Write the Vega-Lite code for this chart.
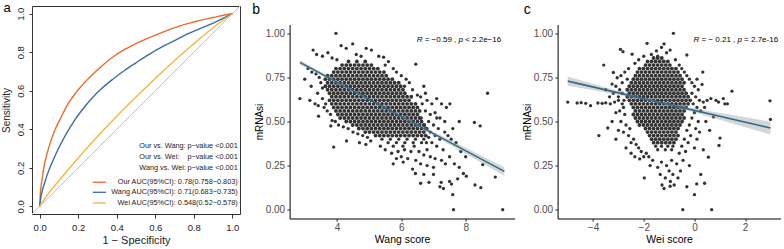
{
"$schema":"https://vega.github.io/schema/vega-lite/v6.json",
"padding":{"top":1,"left":0,"right":0,"bottom":0},
"autosize":{"type":"pad"},
"background":"white",
"config":{"font":"Liberation Sans","view":{"stroke":null},"axis":{"grid":false,"labelFlush":false,"labelOverlap":false}},
"datasets":{
"roc":[
{"s":"Our","x":0,"y":0},{"s":"Our","x":0.003,"y":0.06},{"s":"Our","x":0.008,"y":0.11},{"s":"Our","x":0.015,"y":0.16},{"s":"Our","x":0.025,"y":0.22},{"s":"Our","x":0.04,"y":0.28},{"s":"Our","x":0.06,"y":0.345},{"s":"Our","x":0.085,"y":0.41},{"s":"Our","x":0.11,"y":0.46},{"s":"Our","x":0.14,"y":0.52},{"s":"Our","x":0.17,"y":0.565},{"s":"Our","x":0.2,"y":0.605},{"s":"Our","x":0.24,"y":0.65},{"s":"Our","x":0.28,"y":0.69},{"s":"Our","x":0.33,"y":0.735},{"s":"Our","x":0.38,"y":0.775},{"s":"Our","x":0.43,"y":0.808},{"s":"Our","x":0.5,"y":0.845},{"s":"Our","x":0.56,"y":0.872},{"s":"Our","x":0.62,"y":0.897},{"s":"Our","x":0.68,"y":0.92},{"s":"Our","x":0.75,"y":0.943},{"s":"Our","x":0.82,"y":0.962},{"s":"Our","x":0.9,"y":0.98},{"s":"Our","x":0.96,"y":0.993},{"s":"Our","x":1,"y":1},
{"s":"Wang","x":0,"y":0},{"s":"Wang","x":0.005,"y":0.04},{"s":"Wang","x":0.012,"y":0.075},{"s":"Wang","x":0.025,"y":0.12},{"s":"Wang","x":0.045,"y":0.18},{"s":"Wang","x":0.07,"y":0.24},{"s":"Wang","x":0.1,"y":0.305},{"s":"Wang","x":0.14,"y":0.38},{"s":"Wang","x":0.18,"y":0.445},{"s":"Wang","x":0.22,"y":0.5},{"s":"Wang","x":0.27,"y":0.56},{"s":"Wang","x":0.32,"y":0.61},{"s":"Wang","x":0.38,"y":0.66},{"s":"Wang","x":0.44,"y":0.705},{"s":"Wang","x":0.5,"y":0.745},{"s":"Wang","x":0.57,"y":0.79},{"s":"Wang","x":0.64,"y":0.83},{"s":"Wang","x":0.71,"y":0.865},{"s":"Wang","x":0.78,"y":0.9},{"s":"Wang","x":0.85,"y":0.93},{"s":"Wang","x":0.92,"y":0.96},{"s":"Wang","x":0.97,"y":0.985},{"s":"Wang","x":1,"y":1},
{"s":"Wei","x":0,"y":0},{"s":"Wei","x":0.01,"y":0.016},{"s":"Wei","x":0.03,"y":0.045},{"s":"Wei","x":0.06,"y":0.085},{"s":"Wei","x":0.1,"y":0.133},{"s":"Wei","x":0.2,"y":0.251},{"s":"Wei","x":0.3,"y":0.362},{"s":"Wei","x":0.4,"y":0.467},{"s":"Wei","x":0.5,"y":0.567},{"s":"Wei","x":0.6,"y":0.664},{"s":"Wei","x":0.7,"y":0.756},{"s":"Wei","x":0.8,"y":0.844},{"s":"Wei","x":0.9,"y":0.927},{"s":"Wei","x":0.95,"y":0.965},{"s":"Wei","x":1,"y":1}
],
"bcore":[
{"x":4.36,"y":0.84},{"x":4.62,"y":0.84},{"x":4.88,"y":0.84},
{"x":4.16,"y":0.82},{"x":4.29,"y":0.82},{"x":4.42,"y":0.82},{"x":4.55,"y":0.82},{"x":4.68,"y":0.82},{"x":4.81,"y":0.82},{"x":4.94,"y":0.82},{"x":5.07,"y":0.82},
{"x":3.97,"y":0.8},{"x":4.1,"y":0.8},{"x":4.23,"y":0.8},{"x":4.36,"y":0.8},{"x":4.49,"y":0.8},{"x":4.62,"y":0.8},{"x":4.75,"y":0.8},{"x":4.88,"y":0.8},{"x":5.01,"y":0.8},{"x":5.14,"y":0.8},{"x":5.27,"y":0.8},
{"x":3.9,"y":0.78},{"x":4.03,"y":0.78},{"x":4.16,"y":0.78},{"x":4.29,"y":0.78},{"x":4.42,"y":0.78},{"x":4.55,"y":0.78},{"x":4.68,"y":0.78},{"x":4.81,"y":0.78},{"x":4.94,"y":0.78},{"x":5.07,"y":0.78},{"x":5.2,"y":0.78},{"x":5.33,"y":0.78},{"x":5.46,"y":0.78},
{"x":3.71,"y":0.76},{"x":3.84,"y":0.76},{"x":3.97,"y":0.76},{"x":4.1,"y":0.76},{"x":4.23,"y":0.76},{"x":4.36,"y":0.76},{"x":4.49,"y":0.76},{"x":4.62,"y":0.76},{"x":4.75,"y":0.76},{"x":4.88,"y":0.76},{"x":5.01,"y":0.76},{"x":5.14,"y":0.76},{"x":5.27,"y":0.76},{"x":5.4,"y":0.76},{"x":5.53,"y":0.76},
{"x":3.64,"y":0.74},{"x":3.77,"y":0.74},{"x":3.9,"y":0.74},{"x":4.03,"y":0.74},{"x":4.16,"y":0.74},{"x":4.29,"y":0.74},{"x":4.42,"y":0.74},{"x":4.55,"y":0.74},{"x":4.68,"y":0.74},{"x":4.81,"y":0.74},{"x":4.94,"y":0.74},{"x":5.07,"y":0.74},{"x":5.2,"y":0.74},{"x":5.33,"y":0.74},{"x":5.46,"y":0.74},{"x":5.59,"y":0.74},{"x":5.72,"y":0.74},
{"x":3.71,"y":0.72},{"x":3.84,"y":0.72},{"x":3.97,"y":0.72},{"x":4.1,"y":0.72},{"x":4.23,"y":0.72},{"x":4.36,"y":0.72},{"x":4.49,"y":0.72},{"x":4.62,"y":0.72},{"x":4.75,"y":0.72},{"x":4.88,"y":0.72},{"x":5.01,"y":0.72},{"x":5.14,"y":0.72},{"x":5.27,"y":0.72},{"x":5.4,"y":0.72},{"x":5.53,"y":0.72},{"x":5.66,"y":0.72},{"x":5.79,"y":0.72},{"x":5.92,"y":0.72},
{"x":3.64,"y":0.7},{"x":3.77,"y":0.7},{"x":3.9,"y":0.7},{"x":4.03,"y":0.7},{"x":4.16,"y":0.7},{"x":4.29,"y":0.7},{"x":4.42,"y":0.7},{"x":4.55,"y":0.7},{"x":4.68,"y":0.7},{"x":4.81,"y":0.7},{"x":4.94,"y":0.7},{"x":5.07,"y":0.7},{"x":5.2,"y":0.7},{"x":5.33,"y":0.7},{"x":5.46,"y":0.7},{"x":5.59,"y":0.7},{"x":5.72,"y":0.7},{"x":5.85,"y":0.7},{"x":5.98,"y":0.7},
{"x":3.71,"y":0.68},{"x":3.84,"y":0.68},{"x":3.97,"y":0.68},{"x":4.1,"y":0.68},{"x":4.23,"y":0.68},{"x":4.36,"y":0.68},{"x":4.49,"y":0.68},{"x":4.62,"y":0.68},{"x":4.75,"y":0.68},{"x":4.88,"y":0.68},{"x":5.01,"y":0.68},{"x":5.14,"y":0.68},{"x":5.27,"y":0.68},{"x":5.4,"y":0.68},{"x":5.53,"y":0.68},{"x":5.66,"y":0.68},{"x":5.79,"y":0.68},{"x":5.92,"y":0.68},{"x":6.05,"y":0.68},
{"x":3.77,"y":0.66},{"x":3.9,"y":0.66},{"x":4.03,"y":0.66},{"x":4.16,"y":0.66},{"x":4.29,"y":0.66},{"x":4.42,"y":0.66},{"x":4.55,"y":0.66},{"x":4.68,"y":0.66},{"x":4.81,"y":0.66},{"x":4.94,"y":0.66},{"x":5.07,"y":0.66},{"x":5.2,"y":0.66},{"x":5.33,"y":0.66},{"x":5.46,"y":0.66},{"x":5.59,"y":0.66},{"x":5.72,"y":0.66},{"x":5.85,"y":0.66},{"x":5.98,"y":0.66},{"x":6.11,"y":0.66},
{"x":3.84,"y":0.64},{"x":3.97,"y":0.64},{"x":4.1,"y":0.64},{"x":4.23,"y":0.64},{"x":4.36,"y":0.64},{"x":4.49,"y":0.64},{"x":4.62,"y":0.64},{"x":4.75,"y":0.64},{"x":4.88,"y":0.64},{"x":5.01,"y":0.64},{"x":5.14,"y":0.64},{"x":5.27,"y":0.64},{"x":5.4,"y":0.64},{"x":5.53,"y":0.64},{"x":5.66,"y":0.64},{"x":5.79,"y":0.64},{"x":5.92,"y":0.64},{"x":6.05,"y":0.64},{"x":6.18,"y":0.64},{"x":6.31,"y":0.64},
{"x":3.77,"y":0.62},{"x":3.9,"y":0.62},{"x":4.03,"y":0.62},{"x":4.16,"y":0.62},{"x":4.29,"y":0.62},{"x":4.42,"y":0.62},{"x":4.55,"y":0.62},{"x":4.68,"y":0.62},{"x":4.81,"y":0.62},{"x":4.94,"y":0.62},{"x":5.07,"y":0.62},{"x":5.2,"y":0.62},{"x":5.33,"y":0.62},{"x":5.46,"y":0.62},{"x":5.59,"y":0.62},{"x":5.72,"y":0.62},{"x":5.85,"y":0.62},{"x":5.98,"y":0.62},{"x":6.11,"y":0.62},{"x":6.24,"y":0.62},
{"x":3.84,"y":0.6},{"x":3.97,"y":0.6},{"x":4.1,"y":0.6},{"x":4.23,"y":0.6},{"x":4.36,"y":0.6},{"x":4.49,"y":0.6},{"x":4.62,"y":0.6},{"x":4.75,"y":0.6},{"x":4.88,"y":0.6},{"x":5.01,"y":0.6},{"x":5.14,"y":0.6},{"x":5.27,"y":0.6},{"x":5.4,"y":0.6},{"x":5.53,"y":0.6},{"x":5.66,"y":0.6},{"x":5.79,"y":0.6},{"x":5.92,"y":0.6},{"x":6.05,"y":0.6},{"x":6.18,"y":0.6},{"x":6.31,"y":0.6},{"x":6.44,"y":0.6},
{"x":3.9,"y":0.58},{"x":4.03,"y":0.58},{"x":4.16,"y":0.58},{"x":4.29,"y":0.58},{"x":4.42,"y":0.58},{"x":4.55,"y":0.58},{"x":4.68,"y":0.58},{"x":4.81,"y":0.58},{"x":4.94,"y":0.58},{"x":5.07,"y":0.58},{"x":5.2,"y":0.58},{"x":5.33,"y":0.58},{"x":5.46,"y":0.58},{"x":5.59,"y":0.58},{"x":5.72,"y":0.58},{"x":5.85,"y":0.58},{"x":5.98,"y":0.58},{"x":6.11,"y":0.58},{"x":6.24,"y":0.58},{"x":6.37,"y":0.58},{"x":6.5,"y":0.58},
{"x":3.97,"y":0.56},{"x":4.1,"y":0.56},{"x":4.23,"y":0.56},{"x":4.36,"y":0.56},{"x":4.49,"y":0.56},{"x":4.62,"y":0.56},{"x":4.75,"y":0.56},{"x":4.88,"y":0.56},{"x":5.01,"y":0.56},{"x":5.14,"y":0.56},{"x":5.27,"y":0.56},{"x":5.4,"y":0.56},{"x":5.53,"y":0.56},{"x":5.66,"y":0.56},{"x":5.79,"y":0.56},{"x":5.92,"y":0.56},{"x":6.05,"y":0.56},{"x":6.18,"y":0.56},{"x":6.31,"y":0.56},{"x":6.44,"y":0.56},{"x":6.57,"y":0.56},
{"x":4.03,"y":0.54},{"x":4.16,"y":0.54},{"x":4.29,"y":0.54},{"x":4.42,"y":0.54},{"x":4.55,"y":0.54},{"x":4.68,"y":0.54},{"x":4.81,"y":0.54},{"x":4.94,"y":0.54},{"x":5.07,"y":0.54},{"x":5.2,"y":0.54},{"x":5.33,"y":0.54},{"x":5.46,"y":0.54},{"x":5.59,"y":0.54},{"x":5.72,"y":0.54},{"x":5.85,"y":0.54},{"x":5.98,"y":0.54},{"x":6.11,"y":0.54},{"x":6.24,"y":0.54},{"x":6.37,"y":0.54},{"x":6.5,"y":0.54},
{"x":4.1,"y":0.52},{"x":4.23,"y":0.52},{"x":4.36,"y":0.52},{"x":4.49,"y":0.52},{"x":4.62,"y":0.52},{"x":4.75,"y":0.52},{"x":4.88,"y":0.52},{"x":5.01,"y":0.52},{"x":5.14,"y":0.52},{"x":5.27,"y":0.52},{"x":5.4,"y":0.52},{"x":5.53,"y":0.52},{"x":5.66,"y":0.52},{"x":5.79,"y":0.52},{"x":5.92,"y":0.52},{"x":6.05,"y":0.52},{"x":6.18,"y":0.52},{"x":6.31,"y":0.52},{"x":6.44,"y":0.52},{"x":6.57,"y":0.52},
{"x":4.29,"y":0.5},{"x":4.42,"y":0.5},{"x":4.55,"y":0.5},{"x":4.68,"y":0.5},{"x":4.81,"y":0.5},{"x":4.94,"y":0.5},{"x":5.07,"y":0.5},{"x":5.2,"y":0.5},{"x":5.33,"y":0.5},{"x":5.46,"y":0.5},{"x":5.59,"y":0.5},{"x":5.72,"y":0.5},{"x":5.85,"y":0.5},{"x":5.98,"y":0.5},{"x":6.11,"y":0.5},{"x":6.24,"y":0.5},{"x":6.37,"y":0.5},{"x":6.5,"y":0.5},{"x":6.63,"y":0.5},
{"x":4.49,"y":0.48},{"x":4.62,"y":0.48},{"x":4.75,"y":0.48},{"x":4.88,"y":0.48},{"x":5.01,"y":0.48},{"x":5.14,"y":0.48},{"x":5.27,"y":0.48},{"x":5.4,"y":0.48},{"x":5.53,"y":0.48},{"x":5.66,"y":0.48},{"x":5.79,"y":0.48},{"x":5.92,"y":0.48},{"x":6.05,"y":0.48},{"x":6.18,"y":0.48},{"x":6.31,"y":0.48},{"x":6.44,"y":0.48},{"x":6.57,"y":0.48},{"x":6.7,"y":0.48},
{"x":4.68,"y":0.46},{"x":4.81,"y":0.46},{"x":4.94,"y":0.46},{"x":5.07,"y":0.46},{"x":5.2,"y":0.46},{"x":5.33,"y":0.46},{"x":5.46,"y":0.46},{"x":5.59,"y":0.46},{"x":5.72,"y":0.46},{"x":5.85,"y":0.46},{"x":5.98,"y":0.46},{"x":6.11,"y":0.46},{"x":6.24,"y":0.46},{"x":6.37,"y":0.46},{"x":6.5,"y":0.46},{"x":6.63,"y":0.46},{"x":6.76,"y":0.46},
{"x":4.88,"y":0.44},{"x":5.01,"y":0.44},{"x":5.14,"y":0.44},{"x":5.27,"y":0.44},{"x":5.4,"y":0.44},{"x":5.53,"y":0.44},{"x":5.66,"y":0.44},{"x":5.79,"y":0.44},{"x":5.92,"y":0.44},{"x":6.05,"y":0.44},{"x":6.18,"y":0.44},{"x":6.31,"y":0.44},{"x":6.44,"y":0.44},{"x":6.57,"y":0.44},{"x":6.7,"y":0.44},
{"x":5.2,"y":0.42},{"x":5.33,"y":0.42},{"x":5.46,"y":0.42},{"x":5.59,"y":0.42},{"x":5.72,"y":0.42},{"x":5.85,"y":0.42},{"x":5.98,"y":0.42},{"x":6.11,"y":0.42},{"x":6.24,"y":0.42},{"x":6.37,"y":0.42},{"x":6.5,"y":0.42},{"x":6.63,"y":0.42},{"x":6.76,"y":0.42}
],
"bhalo":[
{"x":5.4,"y":0.4},{"x":5.66,"y":0.4},{"x":5.92,"y":0.4},{"x":6.18,"y":0.4},{"x":6.44,"y":0.4},{"x":6.7,"y":0.4},
{"x":5.59,"y":0.38},{"x":5.85,"y":0.38},{"x":6.11,"y":0.38},{"x":6.37,"y":0.38},{"x":6.63,"y":0.38},
{"x":5.75,"y":0.36},{"x":6.05,"y":0.36},{"x":6.4,"y":0.36},
{"x":3.97,"y":1.0},{"x":4.49,"y":0.94},{"x":4.13,"y":0.93},{"x":4.29,"y":0.915},{"x":4.91,"y":0.915},{"x":5.07,"y":0.905},{"x":5.3,"y":0.87},{"x":5.45,"y":0.865},{"x":4.6,"y":0.88},{"x":4.75,"y":0.87},{"x":3.26,"y":0.905},{"x":3.37,"y":0.88},{"x":3.55,"y":0.87},{"x":3.72,"y":0.89},{"x":3.85,"y":0.86},{"x":4.0,"y":0.85},{"x":5.6,"y":0.84},{"x":5.5,"y":0.82},{"x":5.75,"y":0.8},{"x":5.85,"y":0.78},{"x":6.0,"y":0.76},{"x":6.15,"y":0.74},{"x":6.1,"y":0.7},{"x":6.25,"y":0.72},{"x":6.45,"y":0.825},{"x":6.35,"y":0.68},{"x":6.5,"y":0.65},
{"x":3.1,"y":0.8},{"x":3.22,"y":0.78},{"x":3.35,"y":0.77},{"x":3.45,"y":0.75},{"x":3.5,"y":0.72},{"x":3.55,"y":0.69},{"x":3.4,"y":0.66},{"x":3.55,"y":0.63},{"x":3.16,"y":0.62},{"x":3.32,"y":0.6},{"x":3.42,"y":0.59},{"x":3.6,"y":0.58},{"x":3.7,"y":0.56},{"x":3.65,"y":0.6},{"x":3.8,"y":0.54},{"x":3.43,"y":0.53},{"x":3.85,"y":0.505},{"x":3.81,"y":0.475},{"x":3.95,"y":0.5},{"x":4.05,"y":0.48},{"x":4.2,"y":0.47},{"x":4.35,"y":0.46},{"x":4.5,"y":0.44},{"x":4.65,"y":0.43},{"x":4.8,"y":0.42},{"x":4.95,"y":0.41},{"x":5.05,"y":0.39},{"x":4.7,"y":0.38},{"x":4.9,"y":0.37},{"x":3.9,"y":0.355},{"x":4.3,"y":0.39},{"x":2.85,"y":0.63},{"x":3.0,"y":0.74},{"x":3.2,"y":0.7},
{"x":6.65,"y":0.6},{"x":6.8,"y":0.62},{"x":6.95,"y":0.6},{"x":7.1,"y":0.63},{"x":7.25,"y":0.6},{"x":7.4,"y":0.58},{"x":7.51,"y":0.6},{"x":6.75,"y":0.56},{"x":6.9,"y":0.54},{"x":7.05,"y":0.55},{"x":7.2,"y":0.52},{"x":6.85,"y":0.5},{"x":7.0,"y":0.48},{"x":7.15,"y":0.46},{"x":7.35,"y":0.44},{"x":7.45,"y":0.42},{"x":7.55,"y":0.4},{"x":6.9,"y":0.44},{"x":7.05,"y":0.42},{"x":7.2,"y":0.4},{"x":6.95,"y":0.38},{"x":7.1,"y":0.36},{"x":7.3,"y":0.34},{"x":6.8,"y":0.34},{"x":6.55,"y":0.33},{"x":6.7,"y":0.31},{"x":6.9,"y":0.3},{"x":7.05,"y":0.29},{"x":7.25,"y":0.28},{"x":7.37,"y":0.26},{"x":7.5,"y":0.3},{"x":6.3,"y":0.33},{"x":6.1,"y":0.34},{"x":5.9,"y":0.33},{"x":5.7,"y":0.32},{"x":5.5,"y":0.34},{"x":5.35,"y":0.36},{"x":6.0,"y":0.3},{"x":6.2,"y":0.29},{"x":6.45,"y":0.28},{"x":5.85,"y":0.29},{"x":6.06,"y":0.27},{"x":5.75,"y":0.26},{"x":6.6,"y":0.26},{"x":6.8,"y":0.25},{"x":7.0,"y":0.24},{"x":6.35,"y":0.23},{"x":6.44,"y":0.205},{"x":6.86,"y":0.155},{"x":7.24,"y":0.155},{"x":7.2,"y":0.13},{"x":7.31,"y":0.12},{"x":7.5,"y":0.16},{"x":7.56,"y":0.145},{"x":7.75,"y":0.175},{"x":7.6,"y":0.085},{"x":7.62,"y":0.0},{"x":9.15,"y":0.0},{"x":7.93,"y":0.205},{"x":8.02,"y":0.19},{"x":8.29,"y":0.14},{"x":8.47,"y":0.125},{"x":8.53,"y":0.255},{"x":8.92,"y":0.185},{"x":8.27,"y":0.495},{"x":8.45,"y":0.475},{"x":8.68,"y":0.66},{"x":7.7,"y":0.38},{"x":7.85,"y":0.33},{"x":8.0,"y":0.3},{"x":7.65,"y":0.26},{"x":7.8,"y":0.24},{"x":7.6,"y":0.46},{"x":7.8,"y":0.5},{"x":7.35,"y":0.5},{"x":6.7,"y":0.2},{"x":6.6,"y":0.15},{"x":7.0,"y":0.2},{"x":7.1,"y":0.52},
{"x":6.6,"y":0.64},{"x":6.75,"y":0.66},{"x":6.7,"y":0.7},{"x":6.62,"y":0.52},{"x":6.72,"y":0.48},{"x":6.8,"y":0.46},{"x":6.85,"y":0.41},{"x":6.78,"y":0.38}
],
"ccore":[
{"x":-1.61,"y":0.86},{"x":-1.45,"y":0.86},{"x":-1.29,"y":0.86},
{"x":-1.85,"y":0.84},{"x":-1.69,"y":0.84},{"x":-1.53,"y":0.84},{"x":-1.37,"y":0.84},{"x":-1.21,"y":0.84},{"x":-1.05,"y":0.84},
{"x":-1.93,"y":0.82},{"x":-1.77,"y":0.82},{"x":-1.61,"y":0.82},{"x":-1.45,"y":0.82},{"x":-1.29,"y":0.82},{"x":-1.13,"y":0.82},{"x":-0.97,"y":0.82},
{"x":-2.17,"y":0.8},{"x":-2.01,"y":0.8},{"x":-1.85,"y":0.8},{"x":-1.69,"y":0.8},{"x":-1.53,"y":0.8},{"x":-1.37,"y":0.8},{"x":-1.21,"y":0.8},{"x":-1.05,"y":0.8},{"x":-0.89,"y":0.8},{"x":-0.73,"y":0.8},
{"x":-2.25,"y":0.78},{"x":-2.09,"y":0.78},{"x":-1.93,"y":0.78},{"x":-1.77,"y":0.78},{"x":-1.61,"y":0.78},{"x":-1.45,"y":0.78},{"x":-1.29,"y":0.78},{"x":-1.13,"y":0.78},{"x":-0.97,"y":0.78},{"x":-0.81,"y":0.78},{"x":-0.65,"y":0.78},
{"x":-2.33,"y":0.76},{"x":-2.17,"y":0.76},{"x":-2.01,"y":0.76},{"x":-1.85,"y":0.76},{"x":-1.69,"y":0.76},{"x":-1.53,"y":0.76},{"x":-1.37,"y":0.76},{"x":-1.21,"y":0.76},{"x":-1.05,"y":0.76},{"x":-0.89,"y":0.76},{"x":-0.73,"y":0.76},{"x":-0.57,"y":0.76},
{"x":-2.41,"y":0.74},{"x":-2.25,"y":0.74},{"x":-2.09,"y":0.74},{"x":-1.93,"y":0.74},{"x":-1.77,"y":0.74},{"x":-1.61,"y":0.74},{"x":-1.45,"y":0.74},{"x":-1.29,"y":0.74},{"x":-1.13,"y":0.74},{"x":-0.97,"y":0.74},{"x":-0.81,"y":0.74},{"x":-0.65,"y":0.74},{"x":-0.49,"y":0.74},
{"x":-2.49,"y":0.72},{"x":-2.33,"y":0.72},{"x":-2.17,"y":0.72},{"x":-2.01,"y":0.72},{"x":-1.85,"y":0.72},{"x":-1.69,"y":0.72},{"x":-1.53,"y":0.72},{"x":-1.37,"y":0.72},{"x":-1.21,"y":0.72},{"x":-1.05,"y":0.72},{"x":-0.89,"y":0.72},{"x":-0.73,"y":0.72},{"x":-0.57,"y":0.72},{"x":-0.41,"y":0.72},
{"x":-2.57,"y":0.7},{"x":-2.41,"y":0.7},{"x":-2.25,"y":0.7},{"x":-2.09,"y":0.7},{"x":-1.93,"y":0.7},{"x":-1.77,"y":0.7},{"x":-1.61,"y":0.7},{"x":-1.45,"y":0.7},{"x":-1.29,"y":0.7},{"x":-1.13,"y":0.7},{"x":-0.97,"y":0.7},{"x":-0.81,"y":0.7},{"x":-0.65,"y":0.7},{"x":-0.49,"y":0.7},
{"x":-2.65,"y":0.68},{"x":-2.49,"y":0.68},{"x":-2.33,"y":0.68},{"x":-2.17,"y":0.68},{"x":-2.01,"y":0.68},{"x":-1.85,"y":0.68},{"x":-1.69,"y":0.68},{"x":-1.53,"y":0.68},{"x":-1.37,"y":0.68},{"x":-1.21,"y":0.68},{"x":-1.05,"y":0.68},{"x":-0.89,"y":0.68},{"x":-0.73,"y":0.68},{"x":-0.57,"y":0.68},{"x":-0.41,"y":0.68},
{"x":-2.57,"y":0.66},{"x":-2.41,"y":0.66},{"x":-2.25,"y":0.66},{"x":-2.09,"y":0.66},{"x":-1.93,"y":0.66},{"x":-1.77,"y":0.66},{"x":-1.61,"y":0.66},{"x":-1.45,"y":0.66},{"x":-1.29,"y":0.66},{"x":-1.13,"y":0.66},{"x":-0.97,"y":0.66},{"x":-0.81,"y":0.66},{"x":-0.65,"y":0.66},{"x":-0.49,"y":0.66},{"x":-0.33,"y":0.66},
{"x":-2.65,"y":0.64},{"x":-2.49,"y":0.64},{"x":-2.33,"y":0.64},{"x":-2.17,"y":0.64},{"x":-2.01,"y":0.64},{"x":-1.85,"y":0.64},{"x":-1.69,"y":0.64},{"x":-1.53,"y":0.64},{"x":-1.37,"y":0.64},{"x":-1.21,"y":0.64},{"x":-1.05,"y":0.64},{"x":-0.89,"y":0.64},{"x":-0.73,"y":0.64},{"x":-0.57,"y":0.64},{"x":-0.41,"y":0.64},{"x":-0.25,"y":0.64},
{"x":-2.57,"y":0.62},{"x":-2.41,"y":0.62},{"x":-2.25,"y":0.62},{"x":-2.09,"y":0.62},{"x":-1.93,"y":0.62},{"x":-1.77,"y":0.62},{"x":-1.61,"y":0.62},{"x":-1.45,"y":0.62},{"x":-1.29,"y":0.62},{"x":-1.13,"y":0.62},{"x":-0.97,"y":0.62},{"x":-0.81,"y":0.62},{"x":-0.65,"y":0.62},{"x":-0.49,"y":0.62},{"x":-0.33,"y":0.62},{"x":-0.17,"y":0.62},
{"x":-2.49,"y":0.6},{"x":-2.33,"y":0.6},{"x":-2.17,"y":0.6},{"x":-2.01,"y":0.6},{"x":-1.85,"y":0.6},{"x":-1.69,"y":0.6},{"x":-1.53,"y":0.6},{"x":-1.37,"y":0.6},{"x":-1.21,"y":0.6},{"x":-1.05,"y":0.6},{"x":-0.89,"y":0.6},{"x":-0.73,"y":0.6},{"x":-0.57,"y":0.6},{"x":-0.41,"y":0.6},{"x":-0.25,"y":0.6},
{"x":-2.41,"y":0.58},{"x":-2.25,"y":0.58},{"x":-2.09,"y":0.58},{"x":-1.93,"y":0.58},{"x":-1.77,"y":0.58},{"x":-1.61,"y":0.58},{"x":-1.45,"y":0.58},{"x":-1.29,"y":0.58},{"x":-1.13,"y":0.58},{"x":-0.97,"y":0.58},{"x":-0.81,"y":0.58},{"x":-0.65,"y":0.58},{"x":-0.49,"y":0.58},{"x":-0.33,"y":0.58},
{"x":-2.33,"y":0.56},{"x":-2.17,"y":0.56},{"x":-2.01,"y":0.56},{"x":-1.85,"y":0.56},{"x":-1.69,"y":0.56},{"x":-1.53,"y":0.56},{"x":-1.37,"y":0.56},{"x":-1.21,"y":0.56},{"x":-1.05,"y":0.56},{"x":-0.89,"y":0.56},{"x":-0.73,"y":0.56},{"x":-0.57,"y":0.56},{"x":-0.41,"y":0.56},
{"x":-2.41,"y":0.54},{"x":-2.25,"y":0.54},{"x":-2.09,"y":0.54},{"x":-1.93,"y":0.54},{"x":-1.77,"y":0.54},{"x":-1.61,"y":0.54},{"x":-1.45,"y":0.54},{"x":-1.29,"y":0.54},{"x":-1.13,"y":0.54},{"x":-0.97,"y":0.54},{"x":-0.81,"y":0.54},{"x":-0.65,"y":0.54},{"x":-0.49,"y":0.54},
{"x":-2.33,"y":0.52},{"x":-2.17,"y":0.52},{"x":-2.01,"y":0.52},{"x":-1.85,"y":0.52},{"x":-1.69,"y":0.52},{"x":-1.53,"y":0.52},{"x":-1.37,"y":0.52},{"x":-1.21,"y":0.52},{"x":-1.05,"y":0.52},{"x":-0.89,"y":0.52},{"x":-0.73,"y":0.52},{"x":-0.57,"y":0.52},{"x":-0.41,"y":0.52},
{"x":-2.25,"y":0.5},{"x":-2.09,"y":0.5},{"x":-1.93,"y":0.5},{"x":-1.77,"y":0.5},{"x":-1.61,"y":0.5},{"x":-1.45,"y":0.5},{"x":-1.29,"y":0.5},{"x":-1.13,"y":0.5},{"x":-0.97,"y":0.5},{"x":-0.81,"y":0.5},{"x":-0.65,"y":0.5},{"x":-0.49,"y":0.5},
{"x":-2.17,"y":0.48},{"x":-2.01,"y":0.48},{"x":-1.85,"y":0.48},{"x":-1.69,"y":0.48},{"x":-1.53,"y":0.48},{"x":-1.37,"y":0.48},{"x":-1.21,"y":0.48},{"x":-1.05,"y":0.48},{"x":-0.89,"y":0.48},{"x":-0.73,"y":0.48},{"x":-0.57,"y":0.48},
{"x":-1.93,"y":0.46},{"x":-1.77,"y":0.46},{"x":-1.61,"y":0.46},{"x":-1.45,"y":0.46},{"x":-1.29,"y":0.46},{"x":-1.13,"y":0.46},{"x":-0.97,"y":0.46},{"x":-0.81,"y":0.46},{"x":-0.65,"y":0.46},
{"x":-1.85,"y":0.44},{"x":-1.69,"y":0.44},{"x":-1.53,"y":0.44},{"x":-1.37,"y":0.44},{"x":-1.21,"y":0.44},{"x":-1.05,"y":0.44},{"x":-0.89,"y":0.44},{"x":-0.73,"y":0.44},
{"x":-1.77,"y":0.42},{"x":-1.61,"y":0.42},{"x":-1.45,"y":0.42},{"x":-1.29,"y":0.42},{"x":-1.13,"y":0.42},{"x":-0.97,"y":0.42},{"x":-0.81,"y":0.42},{"x":-0.65,"y":0.42},
{"x":-1.69,"y":0.4},{"x":-1.53,"y":0.4},{"x":-1.37,"y":0.4},{"x":-1.21,"y":0.4},{"x":-1.05,"y":0.4},{"x":-0.89,"y":0.4},{"x":-0.73,"y":0.4},
{"x":-1.61,"y":0.38},{"x":-1.45,"y":0.38},{"x":-1.29,"y":0.38},{"x":-1.13,"y":0.38},{"x":-0.97,"y":0.38},{"x":-0.81,"y":0.38}
],
"chalo":[
{"x":-1.53,"y":0.36},{"x":-1.3,"y":0.36},{"x":-1.05,"y":0.36},{"x":-0.85,"y":0.36},
{"x":-1.45,"y":0.34},{"x":-1.15,"y":0.34},{"x":-0.9,"y":0.34},
{"x":-5.0,"y":0.61},{"x":-4.63,"y":0.605},{"x":-4.47,"y":0.607},{"x":-4.29,"y":0.603},{"x":-4.1,"y":0.59},{"x":-3.81,"y":0.605},{"x":-3.64,"y":0.603},{"x":-3.5,"y":0.606},{"x":-3.32,"y":0.6},{"x":-3.15,"y":0.61},{"x":-3.0,"y":0.62},{"x":-2.85,"y":0.6},
{"x":-3.77,"y":0.42},{"x":-3.42,"y":0.463},{"x":-3.58,"y":0.82},{"x":-0.83,"y":1.0},{"x":2.98,"y":0.617},{"x":3.0,"y":0.512},{"x":1.01,"y":0.406},{"x":0.97,"y":0.364},{"x":0.55,"y":0.298},{"x":0.35,"y":0.34},{"x":1.48,"y":0.672},{"x":1.14,"y":0.63},{"x":1.2,"y":0.6},{"x":1.3,"y":0.6},{"x":0.75,"y":0.526},{"x":-0.46,"y":0.0},{"x":0.68,"y":0.0},{"x":0.0,"y":0.085},{"x":0.09,"y":0.146},{"x":-0.3,"y":0.13},{"x":-0.96,"y":0.133},{"x":-1.28,"y":0.14},{"x":-1.98,"y":0.18},{"x":0.33,"y":0.78},{"x":-0.3,"y":0.877},{"x":-0.96,"y":0.905},{"x":-1.87,"y":0.943},{"x":-2.92,"y":0.909},{"x":-2.82,"y":0.896},{"x":-2.46,"y":0.882},{"x":-3.05,"y":0.748},{"x":-3.2,"y":0.778},{"x":-3.25,"y":0.712},{"x":-2.16,"y":0.288},{"x":-2.0,"y":0.3},{"x":0.5,"y":0.62},{"x":0.65,"y":0.63},{"x":0.85,"y":0.62},{"x":0.95,"y":0.61},
{"x":-1.5,"y":0.9},{"x":-1.3,"y":0.92},{"x":-1.1,"y":0.89},{"x":-1.7,"y":0.88},{"x":-2.0,"y":0.87},{"x":-0.75,"y":0.85},{"x":-0.6,"y":0.82},{"x":-2.2,"y":0.85},{"x":-2.35,"y":0.83},{"x":-0.5,"y":0.8},{"x":-0.4,"y":0.78},{"x":-2.6,"y":0.8},{"x":-2.75,"y":0.78},{"x":-2.9,"y":0.76},{"x":-2.65,"y":0.74},{"x":-0.3,"y":0.76},{"x":-0.2,"y":0.74},{"x":-0.1,"y":0.72},{"x":0.0,"y":0.7},{"x":0.15,"y":0.68},{"x":-3.1,"y":0.7},{"x":-2.85,"y":0.72},{"x":-2.95,"y":0.68},{"x":-3.2,"y":0.66},{"x":-3.35,"y":0.64},{"x":-3.5,"y":0.68},{"x":0.1,"y":0.74},{"x":0.3,"y":0.71},{"x":-1.2,"y":0.94},{"x":-1.45,"y":0.87},
{"x":-0.1,"y":0.66},{"x":0.05,"y":0.64},{"x":0.2,"y":0.62},{"x":0.35,"y":0.61},{"x":-0.05,"y":0.6},{"x":0.1,"y":0.58},{"x":0.25,"y":0.56},{"x":0.4,"y":0.58},{"x":0.0,"y":0.55},{"x":-0.1,"y":0.52},{"x":0.15,"y":0.5},{"x":-0.2,"y":0.48},{"x":0.05,"y":0.46},{"x":-0.3,"y":0.45},{"x":-0.15,"y":0.42},{"x":0.2,"y":0.44},{"x":-0.4,"y":0.4},{"x":-0.25,"y":0.38},{"x":0.1,"y":0.4},{"x":-0.5,"y":0.36},{"x":-0.35,"y":0.33},{"x":0.0,"y":0.35},{"x":0.6,"y":0.45},{"x":0.45,"y":0.5},{"x":-0.6,"y":0.32},{"x":-0.45,"y":0.28},{"x":-0.2,"y":0.25},{"x":-0.7,"y":0.26},{"x":-0.55,"y":0.22},{"x":-0.65,"y":0.18},{"x":-0.85,"y":0.2},{"x":-1.0,"y":0.22},{"x":-1.15,"y":0.18},{"x":-1.35,"y":0.2},{"x":-1.1,"y":0.25},{"x":-0.9,"y":0.28},{"x":-1.3,"y":0.27},{"x":-1.45,"y":0.24},{"x":-0.95,"y":0.16},{"x":-1.2,"y":0.12},{"x":-0.8,"y":0.14},{"x":0.25,"y":0.2},{"x":0.4,"y":0.15},
{"x":-2.8,"y":0.58},{"x":-2.95,"y":0.56},{"x":-3.1,"y":0.55},{"x":-2.75,"y":0.54},{"x":-2.9,"y":0.5},{"x":-2.7,"y":0.48},{"x":-2.55,"y":0.46},{"x":-2.8,"y":0.44},{"x":-2.6,"y":0.42},{"x":-2.4,"y":0.4},{"x":-2.5,"y":0.38},{"x":-2.3,"y":0.37},{"x":-2.2,"y":0.35},{"x":-2.1,"y":0.33},{"x":-2.35,"y":0.3},{"x":-1.9,"y":0.32},{"x":-1.8,"y":0.3},{"x":-1.65,"y":0.28},{"x":-1.75,"y":0.25},{"x":-2.5,"y":0.32},{"x":-2.7,"y":0.35},{"x":-3.0,"y":0.45},{"x":-3.25,"y":0.5},{"x":-3.1,"y":0.4},{"x":-2.85,"y":0.66},{"x":-3.0,"y":0.64},{"x":-2.78,"y":0.62}
]
},
"spacing":8.6,
"bounds":"full",
"hconcat":[
{
"width":208,"height":208,
"view":{"stroke":"#333","strokeWidth":1},
"title":{"text":"a","anchor":"start","frame":"bounds","fontSize":13,"fontWeight":"normal","baseline":"top","offset":-11,"dx":2,"color":"#000"},
"layer":[
{"data":{"values":[{"x":-0.04,"y":-0.04},{"x":1.04,"y":1.04}]},
"mark":{"type":"line","color":"#BEBEBE","strokeWidth":1},
"encoding":{
"x":{"field":"x","type":"quantitative","scale":{"domain":[-0.04,1.04],"nice":false,"zero":false},
"axis":{"values":[0,0.2,0.4,0.6,0.8,1],"format":".1f","domain":false,"tickSize":4,"tickColor":"#333","labelColor":"#222","labelFontSize":9.5,"labelPadding":4,"title":"1 − Specificity","titleFontSize":11,"titleFontWeight":"normal","titleColor":"#222","titlePadding":3}},
"y":{"field":"y","type":"quantitative","scale":{"domain":[-0.04,1.04],"nice":false,"zero":false},
"axis":{"values":[0,0.2,0.4,0.6,0.8,1],"format":".1f","domain":false,"tickSize":3,"tickColor":"#333","labelColor":"#222","labelFontSize":9.5,"labelAngle":-90,"labelAlign":"center","labelBaseline":"bottom","labelPadding":4,"title":"Sensitivity","titleFontSize":10,"titleFontWeight":"normal","titleColor":"#222","titlePadding":3.5}}}},
{"data":{"name":"roc"},
"mark":{"type":"line","strokeWidth":1.4,"interpolate":"monotone"},
"encoding":{"x":{"field":"x","type":"quantitative"},"y":{"field":"y","type":"quantitative"},
"color":{"field":"s","type":"nominal","scale":{"domain":["Our","Wang","Wei"],"range":["#EC6A2D","#3D6CA6","#F4B63F"]},"legend":null}}},
{"data":{"values":[{"s":"Our","y":0.125},{"s":"Wang","y":0.0727},{"s":"Wei","y":0.017}]},
"mark":{"type":"rule","strokeWidth":1.3},
"encoding":{"x":{"datum":0.275,"type":"quantitative"},"x2":{"datum":0.344},"y":{"field":"y","type":"quantitative"},
"color":{"field":"s","type":"nominal","legend":null}}},
{"data":{"values":[{"t":"Our AUC(95%CI): 0.78(0.758−0.803)","y":0.125},{"t":"Wang AUC(95%CI): 0.71(0.683−0.735)","y":0.0727},{"t":"Wei AUC(95%CI): 0.548(0.52−0.578)","y":0.017},{"t":"p−value <0.001","y":0.3115},{"t":"p−value <0.001","y":0.254},{"t":"p−value <0.001","y":0.197}]},
"mark":{"type":"text","align":"right","baseline":"middle","fontSize":7.3,"color":"#222"},
"encoding":{"x":{"datum":1.028,"type":"quantitative"},"y":{"field":"y","type":"quantitative"},"text":{"field":"t"}}},
{"data":{"values":[{"t":"Our vs. Wang:","y":0.3115},{"t":"Our vs. Wei:","y":0.254},{"t":"Wang vs. Wei:","y":0.197}]},
"mark":{"type":"text","align":"left","baseline":"middle","fontSize":7.3,"color":"#222"},
"encoding":{"x":{"datum":0.517,"type":"quantitative"},"y":{"field":"y","type":"quantitative"},"text":{"field":"t"}}}
]
},
{
"spacing":-7.5,
"bounds":"full",
"vconcat":[
{"width":1,"height":1,"data":{"values":[{"v":0}]},"mark":{"type":"point","opacity":0},"encoding":{}},
{
"spacing":7,
"bounds":"full",
"hconcat":[
{
"width":225,"height":194,
"title":{"text":"b","anchor":"start","frame":"bounds","fontSize":14,"fontWeight":"normal","offset":8,"dx":-2,"color":"#000"},
"layer":[
{"data":{"name":"bcore"},
"mark":{"type":"circle","size":15,"color":"#333","opacity":1},
"encoding":{
"x":{"field":"x","type":"quantitative","scale":{"domain":[2.53,9.52],"nice":false,"zero":false},
"axis":{"values":[4,6,8],"domainColor":"#000","domainWidth":1,"tickSize":2.75,"tickColor":"#333","labelColor":"#4D4D4D","labelFontSize":10,"labelPadding":1.5,"title":"Wang score","titleFontSize":10.5,"titleFontWeight":"normal","titleColor":"#000","titlePadding":2}},
"y":{"field":"y","type":"quantitative","scale":{"domain":[-0.05,1.05],"nice":false,"zero":false},
"axis":{"values":[0,0.25,0.5,0.75,1],"format":".2f","domainColor":"#000","domainWidth":1,"tickSize":2.75,"tickColor":"#333","labelColor":"#4D4D4D","labelFontSize":10,"labelPadding":2.2,"title":"mRNAsi","titleFontSize":10,"titleFontWeight":"normal","titleColor":"#000","titlePadding":1}}}},
{"data":{"name":"bhalo"},
"mark":{"type":"circle","size":11,"color":"#333","opacity":1},
"encoding":{"x":{"field":"x","type":"quantitative"},"y":{"field":"y","type":"quantitative"}}},
{"data":{"values":[{"x":2.85,"lo":0.822,"hi":0.848},{"x":4.0,"lo":0.715,"hi":0.731},{"x":5.2,"lo":0.601,"hi":0.611},{"x":6.5,"lo":0.472,"hi":0.488},{"x":8.0,"lo":0.317,"hi":0.351},{"x":9.2,"lo":0.193,"hi":0.241}]},
"mark":{"type":"area","color":"#999","opacity":0.4,"interpolate":"monotone"},
"encoding":{"x":{"field":"x","type":"quantitative"},"y":{"field":"lo","type":"quantitative"},"y2":{"field":"hi"}}},
{"data":{"values":[{"x":2.85,"y":0.835},{"x":9.2,"y":0.217}]},
"mark":{"type":"line","color":"#2E6C8C","strokeWidth":1.6},
"encoding":{"x":{"field":"x","type":"quantitative"},"y":{"field":"y","type":"quantitative"}}},
{"data":{"values":[{"t":"R","x":6.48},{"t":"p","x":7.777}]},
"mark":{"type":"text","align":"left","baseline":"middle","fontSize":8,"fontStyle":"italic","color":"#000"},
"encoding":{"x":{"field":"x","type":"quantitative"},"y":{"datum":0.963,"type":"quantitative"},"text":{"field":"t"}}},
{"data":{"values":[{"t":"= −0.59 ,","x":6.728},{"t":"< 2.2e−16","x":7.984}]},
"mark":{"type":"text","align":"left","baseline":"middle","fontSize":8,"color":"#000"},
"encoding":{"x":{"field":"x","type":"quantitative"},"y":{"datum":0.963,"type":"quantitative"},"text":{"field":"t"}}}
]
},
{
"width":223,"height":194,
"title":{"text":"c","anchor":"start","frame":"bounds","fontSize":14,"fontWeight":"normal","offset":8,"dx":1.5,"color":"#000"},
"layer":[
{"data":{"name":"ccore"},
"mark":{"type":"circle","size":15,"color":"#333","opacity":1},
"encoding":{
"x":{"field":"x","type":"quantitative","scale":{"domain":[-5.4,3.4],"nice":false,"zero":false},
"axis":{"values":[-4,-2,0,2],"domainColor":"#000","domainWidth":1,"tickSize":2.75,"tickColor":"#333","labelColor":"#4D4D4D","labelFontSize":10,"labelPadding":1.5,"title":"Wei score","titleFontSize":10.5,"titleFontWeight":"normal","titleColor":"#000","titlePadding":2}},
"y":{"field":"y","type":"quantitative","scale":{"domain":[-0.05,1.05],"nice":false,"zero":false},
"axis":{"values":[0,0.25,0.5,0.75,1],"format":".2f","domainColor":"#000","domainWidth":1,"tickSize":2.75,"tickColor":"#333","labelColor":"#4D4D4D","labelFontSize":10,"labelPadding":2.2,"title":"mRNAsi","titleFontSize":10,"titleFontWeight":"normal","titleColor":"#000","titlePadding":1}}}},
{"data":{"name":"chalo"},
"mark":{"type":"circle","size":11,"color":"#333","opacity":1},
"encoding":{"x":{"field":"x","type":"quantitative"},"y":{"field":"y","type":"quantitative"}}},
{"data":{"values":[{"x":-5,"lo":0.703,"hi":0.755},{"x":-3.5,"lo":0.665,"hi":0.693},{"x":-1.4,"lo":0.603,"hi":0.615},{"x":0,"lo":0.551,"hi":0.575},{"x":1.5,"lo":0.489,"hi":0.537},{"x":3,"lo":0.427,"hi":0.499}]},
"mark":{"type":"area","color":"#999","opacity":0.4,"interpolate":"monotone"},
"encoding":{"x":{"field":"x","type":"quantitative"},"y":{"field":"lo","type":"quantitative"},"y2":{"field":"hi"}}},
{"data":{"values":[{"x":-5,"y":0.729},{"x":3,"y":0.463}]},
"mark":{"type":"line","color":"#2E6C8C","strokeWidth":1.6},
"encoding":{"x":{"field":"x","type":"quantitative"},"y":{"field":"y","type":"quantitative"}}},
{"data":{"values":[{"t":"R","x":-0.035},{"t":"p","x":1.697}]},
"mark":{"type":"text","align":"left","baseline":"middle","fontSize":8,"fontStyle":"italic","color":"#000"},
"encoding":{"x":{"field":"x","type":"quantitative"},"y":{"datum":0.963,"type":"quantitative"},"text":{"field":"t"}}},
{"data":{"values":[{"t":"= − 0.21 ,","x":0.28},{"t":"= 2.7e-16","x":1.96}]},
"mark":{"type":"text","align":"left","baseline":"middle","fontSize":8,"color":"#000"},
"encoding":{"x":{"field":"x","type":"quantitative"},"y":{"datum":0.963,"type":"quantitative"},"text":{"field":"t"}}}
]
}
]
}
]
}
]
}
